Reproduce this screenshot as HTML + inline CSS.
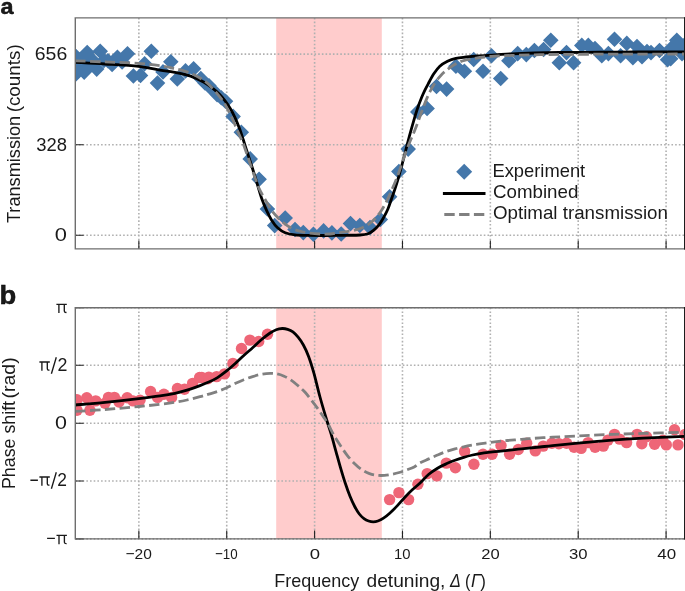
<!DOCTYPE html>
<html><head><meta charset="utf-8"><title>figure</title>
<style>html,body{margin:0;padding:0;background:#fff;overflow:hidden}svg{display:block;will-change:transform}text{font-family:"Liberation Sans",sans-serif;fill:#1a1a1a}.tk{stroke:#222;stroke-width:1.1;fill:none}.gr{stroke:#b0b0b0;stroke-width:1.6;stroke-dasharray:1.6 2.08;fill:none}.ax{stroke:#6e6e6e;stroke-width:1.4;fill:none}.bk{stroke:#000;stroke-width:2.8;fill:none;stroke-linejoin:round}.gy{stroke:#808080;stroke-width:2.8;fill:none;stroke-dasharray:10.4 4.4}</style></head><body>
<svg width="685" height="591" viewBox="0 0 685 591">
<rect width="685" height="591" fill="#fff"/>
<defs>
<clipPath id="ca"><rect x="75.30" y="17.90" width="609.70" height="231.00"/></clipPath>
<clipPath id="cb"><rect x="75.30" y="307.70" width="609.70" height="231.20"/></clipPath>
</defs>
<rect x="276.20" y="17.90" width="105.60" height="231.00" fill="#ffcccc"/>
<path class="gr" d="M138.86,17.90 V248.90 M226.73,17.90 V248.90 M314.60,17.90 V248.90 M402.47,17.90 V248.90 M490.34,17.90 V248.90 M578.21,17.90 V248.90 M666.08,17.90 V248.90 M75.30,54.10 H685.00 M75.30,144.70 H685.00 M75.30,235.20 H685.00"/>
<path class="tk" d="M138.86,248.90 V240.60 M226.73,248.90 V240.60 M314.60,248.90 V240.60 M402.47,248.90 V240.60 M490.34,248.90 V240.60 M578.21,248.90 V240.60 M666.08,248.90 V240.60 M75.30,54.10 H83.60 M75.30,144.70 H83.60 M75.30,235.20 H83.60"/>
<g clip-path="url(#ca)">
<path fill="#4477aa" d="M75.00,47.70 l7.80,7.80 l-7.80,7.80 l-7.80,-7.80 zM75.90,66.10 l7.80,7.80 l-7.80,7.80 l-7.80,-7.80 zM87.20,44.70 l7.80,7.80 l-7.80,7.80 l-7.80,-7.80 zM84.20,64.30 l7.80,7.80 l-7.80,7.80 l-7.80,-7.80 zM100.20,43.50 l7.80,7.80 l-7.80,7.80 l-7.80,-7.80 zM96.70,61.30 l7.80,7.80 l-7.80,7.80 l-7.80,-7.80 zM78.50,58.20 l7.80,7.80 l-7.80,7.80 l-7.80,-7.80 zM81.30,54.20 l7.80,7.80 l-7.80,7.80 l-7.80,-7.80 zM86.50,56.70 l7.80,7.80 l-7.80,7.80 l-7.80,-7.80 zM92.70,52.50 l7.80,7.80 l-7.80,7.80 l-7.80,-7.80 zM104.00,52.70 l7.80,7.80 l-7.80,7.80 l-7.80,-7.80 zM107.90,53.00 l7.80,7.80 l-7.80,7.80 l-7.80,-7.80 zM117.40,49.50 l7.80,7.80 l-7.80,7.80 l-7.80,-7.80 zM112.10,56.60 l7.80,7.80 l-7.80,7.80 l-7.80,-7.80 zM127.50,45.90 l7.80,7.80 l-7.80,7.80 l-7.80,-7.80 zM122.10,54.20 l7.80,7.80 l-7.80,7.80 l-7.80,-7.80 zM133.40,68.20 l7.80,7.80 l-7.80,7.80 l-7.80,-7.80 zM140.50,67.60 l7.80,7.80 l-7.80,7.80 l-7.80,-7.80 zM151.30,43.40 l7.80,7.80 l-7.80,7.80 l-7.80,-7.80 zM144.60,55.90 l7.80,7.80 l-7.80,7.80 l-7.80,-7.80 zM157.50,75.30 l7.80,7.80 l-7.80,7.80 l-7.80,-7.80 zM163.00,64.10 l7.80,7.80 l-7.80,7.80 l-7.80,-7.80 zM170.80,53.90 l7.80,7.80 l-7.80,7.80 l-7.80,-7.80 zM177.30,71.20 l7.80,7.80 l-7.80,7.80 l-7.80,-7.80 zM185.50,63.10 l7.80,7.80 l-7.80,7.80 l-7.80,-7.80 zM193.60,61.00 l7.80,7.80 l-7.80,7.80 l-7.80,-7.80 zM200.80,70.70 l7.80,7.80 l-7.80,7.80 l-7.80,-7.80 zM205.00,75.20 l7.80,7.80 l-7.80,7.80 l-7.80,-7.80 zM209.00,78.00 l7.80,7.80 l-7.80,7.80 l-7.80,-7.80 zM213.00,82.50 l7.80,7.80 l-7.80,7.80 l-7.80,-7.80 zM221.30,90.00 l7.80,7.80 l-7.80,7.80 l-7.80,-7.80 zM217.10,86.80 l7.80,7.80 l-7.80,7.80 l-7.80,-7.80 zM225.50,93.40 l7.80,7.80 l-7.80,7.80 l-7.80,-7.80 zM233.10,108.60 l7.80,7.80 l-7.80,7.80 l-7.80,-7.80 zM241.30,124.50 l7.80,7.80 l-7.80,7.80 l-7.80,-7.80 zM250.20,151.10 l7.80,7.80 l-7.80,7.80 l-7.80,-7.80 zM259.10,171.40 l7.80,7.80 l-7.80,7.80 l-7.80,-7.80 zM267.40,201.20 l7.80,7.80 l-7.80,7.80 l-7.80,-7.80 zM274.70,217.80 l7.80,7.80 l-7.80,7.80 l-7.80,-7.80 zM285.20,210.20 l7.80,7.80 l-7.80,7.80 l-7.80,-7.80 zM295.00,221.70 l7.80,7.80 l-7.80,7.80 l-7.80,-7.80 zM303.30,224.80 l7.80,7.80 l-7.80,7.80 l-7.80,-7.80 zM313.40,226.50 l7.80,7.80 l-7.80,7.80 l-7.80,-7.80 zM323.60,223.10 l7.80,7.80 l-7.80,7.80 l-7.80,-7.80 zM331.90,225.10 l7.80,7.80 l-7.80,7.80 l-7.80,-7.80 zM341.20,226.20 l7.80,7.80 l-7.80,7.80 l-7.80,-7.80 zM350.50,215.80 l7.80,7.80 l-7.80,7.80 l-7.80,-7.80 zM359.80,217.70 l7.80,7.80 l-7.80,7.80 l-7.80,-7.80 zM370.00,219.70 l7.80,7.80 l-7.80,7.80 l-7.80,-7.80 zM380.30,211.70 l7.80,7.80 l-7.80,7.80 l-7.80,-7.80 zM389.60,189.00 l7.80,7.80 l-7.80,7.80 l-7.80,-7.80 zM398.90,163.70 l7.80,7.80 l-7.80,7.80 l-7.80,-7.80 zM408.20,141.30 l7.80,7.80 l-7.80,7.80 l-7.80,-7.80 zM417.80,104.10 l7.80,7.80 l-7.80,7.80 l-7.80,-7.80 zM427.10,100.70 l7.80,7.80 l-7.80,7.80 l-7.80,-7.80 zM436.50,78.70 l7.80,7.80 l-7.80,7.80 l-7.80,-7.80 zM446.60,81.30 l7.80,7.80 l-7.80,7.80 l-7.80,-7.80 zM455.90,58.40 l7.80,7.80 l-7.80,7.80 l-7.80,-7.80 zM464.40,63.50 l7.80,7.80 l-7.80,7.80 l-7.80,-7.80 zM473.70,51.70 l7.80,7.80 l-7.80,7.80 l-7.80,-7.80 zM483.00,63.50 l7.80,7.80 l-7.80,7.80 l-7.80,-7.80 zM491.50,47.90 l7.80,7.80 l-7.80,7.80 l-7.80,-7.80 zM500.70,70.70 l7.80,7.80 l-7.80,7.80 l-7.80,-7.80 zM508.90,53.00 l7.80,7.80 l-7.80,7.80 l-7.80,-7.80 zM517.70,45.80 l7.80,7.80 l-7.80,7.80 l-7.80,-7.80 zM526.30,46.80 l7.80,7.80 l-7.80,7.80 l-7.80,-7.80 zM534.40,42.70 l7.80,7.80 l-7.80,7.80 l-7.80,-7.80 zM543.60,41.70 l7.80,7.80 l-7.80,7.80 l-7.80,-7.80 zM550.80,32.50 l7.80,7.80 l-7.80,7.80 l-7.80,-7.80 zM559.30,55.00 l7.80,7.80 l-7.80,7.80 l-7.80,-7.80 zM566.50,44.80 l7.80,7.80 l-7.80,7.80 l-7.80,-7.80 zM573.60,55.00 l7.80,7.80 l-7.80,7.80 l-7.80,-7.80 zM581.80,37.60 l7.80,7.80 l-7.80,7.80 l-7.80,-7.80 zM588.30,37.60 l7.80,7.80 l-7.80,7.80 l-7.80,-7.80 zM595.00,40.70 l7.80,7.80 l-7.80,7.80 l-7.80,-7.80 zM601.80,47.90 l7.80,7.80 l-7.80,7.80 l-7.80,-7.80 zM608.40,45.80 l7.80,7.80 l-7.80,7.80 l-7.80,-7.80 zM614.50,31.50 l7.80,7.80 l-7.80,7.80 l-7.80,-7.80 zM620.60,47.90 l7.80,7.80 l-7.80,7.80 l-7.80,-7.80 zM626.80,35.60 l7.80,7.80 l-7.80,7.80 l-7.80,-7.80 zM632.90,49.90 l7.80,7.80 l-7.80,7.80 l-7.80,-7.80 zM637.00,38.70 l7.80,7.80 l-7.80,7.80 l-7.80,-7.80 zM642.00,48.90 l7.80,7.80 l-7.80,7.80 l-7.80,-7.80 zM647.00,43.80 l7.80,7.80 l-7.80,7.80 l-7.80,-7.80 zM651.00,44.80 l7.80,7.80 l-7.80,7.80 l-7.80,-7.80 zM659.50,42.70 l7.80,7.80 l-7.80,7.80 l-7.80,-7.80 zM667.60,51.90 l7.80,7.80 l-7.80,7.80 l-7.80,-7.80 zM670.70,50.90 l7.80,7.80 l-7.80,7.80 l-7.80,-7.80 zM676.80,32.50 l7.80,7.80 l-7.80,7.80 l-7.80,-7.80 zM682.00,45.80 l7.80,7.80 l-7.80,7.80 l-7.80,-7.80 zM672.00,39.70 l7.80,7.80 l-7.80,7.80 l-7.80,-7.80 zM679.50,41.70 l7.80,7.80 l-7.80,7.80 l-7.80,-7.80 zM684.00,37.70 l7.80,7.80 l-7.80,7.80 l-7.80,-7.80 z"/>
<path class="bk" d="M75.30,62.40C80.25,62.67 94.47,63.33 105.00,64.00C115.53,64.67 129.33,65.38 138.50,66.40C147.67,67.42 154.17,69.15 160.00,70.10C165.83,71.05 169.27,71.33 173.50,72.10C177.73,72.87 181.73,73.70 185.40,74.70C189.07,75.70 192.40,76.83 195.50,78.10C198.60,79.37 201.17,80.62 204.00,82.30C206.83,83.98 209.97,86.23 212.50,88.20C215.03,90.17 217.10,91.98 219.20,94.10C221.30,96.22 223.23,98.45 225.10,100.90C226.97,103.35 228.75,106.02 230.40,108.80C232.05,111.58 233.47,114.27 235.00,117.60C236.53,120.93 238.23,125.15 239.60,128.80C240.97,132.45 242.03,135.92 243.20,139.50C244.37,143.08 245.15,145.80 246.60,150.30C248.05,154.80 250.18,161.08 251.90,166.50C253.62,171.92 255.23,177.38 256.90,182.80C258.57,188.22 260.23,194.27 261.90,199.00C263.57,203.73 265.25,207.63 266.90,211.20C268.55,214.77 270.02,217.63 271.80,220.40C273.58,223.17 275.37,225.73 277.60,227.80C279.83,229.87 282.30,231.62 285.20,232.80C288.10,233.98 291.00,234.47 295.00,234.90C299.00,235.33 304.20,235.30 309.20,235.40C314.20,235.50 318.88,235.52 325.00,235.50C331.12,235.48 340.07,235.38 345.90,235.30C351.73,235.22 356.30,235.27 360.00,235.00C363.70,234.73 365.85,234.48 368.10,233.70C370.35,232.92 371.68,231.77 373.50,230.30C375.32,228.83 377.30,227.05 379.00,224.90C380.70,222.75 382.23,220.00 383.70,217.40C385.17,214.80 386.55,212.23 387.80,209.30C389.05,206.37 390.08,202.97 391.20,199.80C392.32,196.63 393.38,193.68 394.50,190.30C395.62,186.92 396.77,183.30 397.90,179.50C399.03,175.70 400.07,172.08 401.30,167.50C402.53,162.92 403.95,157.23 405.30,152.00C406.65,146.77 408.05,141.13 409.40,136.10C410.75,131.07 412.05,126.40 413.40,121.80C414.75,117.20 416.13,112.55 417.50,108.50C418.87,104.45 420.38,100.53 421.60,97.50C422.82,94.47 423.70,92.58 424.80,90.30C425.90,88.02 426.70,86.55 428.20,83.80C429.70,81.05 431.87,76.73 433.80,73.80C435.73,70.87 437.52,68.30 439.80,66.20C442.08,64.10 444.82,62.52 447.50,61.20C450.18,59.88 452.80,59.00 455.90,58.30C459.00,57.60 462.43,57.40 466.10,57.00C469.77,56.60 473.08,56.25 477.90,55.90C482.72,55.55 489.32,55.25 495.00,54.90C500.68,54.55 505.43,54.12 512.00,53.80C518.57,53.48 526.57,53.22 534.40,53.00C542.23,52.78 548.07,52.63 559.00,52.50C569.93,52.37 586.50,52.28 600.00,52.20C613.50,52.12 625.92,52.05 640.00,52.00C654.08,51.95 677.08,51.92 684.50,51.90"/>
<path class="gy" d="M75.30,60.90C80.25,61.07 94.47,61.48 105.00,61.90C115.53,62.32 128.77,62.68 138.50,63.40C148.23,64.12 157.57,65.37 163.40,66.20C169.23,67.03 169.83,67.55 173.50,68.40C177.17,69.25 181.73,70.12 185.40,71.30C189.07,72.48 192.40,73.95 195.50,75.50C198.60,77.05 201.45,78.77 204.00,80.60C206.55,82.43 208.55,84.25 210.80,86.50C213.05,88.75 215.38,91.55 217.50,94.10C219.62,96.65 221.80,99.25 223.50,101.80C225.20,104.35 226.30,106.73 227.70,109.40C229.10,112.07 230.47,114.70 231.90,117.80C233.33,120.90 234.88,124.75 236.30,128.00C237.72,131.25 239.15,134.43 240.40,137.30C241.65,140.17 242.35,141.33 243.80,145.20C245.25,149.07 247.35,155.42 249.10,160.50C250.85,165.58 252.60,170.97 254.30,175.70C256.00,180.43 257.45,184.85 259.30,188.90C261.15,192.95 263.37,196.45 265.40,200.00C267.43,203.55 269.32,207.15 271.50,210.20C273.68,213.25 276.17,215.93 278.50,218.30C280.83,220.67 283.02,222.60 285.50,224.40C287.98,226.20 290.77,227.90 293.40,229.10C296.03,230.30 298.67,230.93 301.30,231.60C303.93,232.27 306.08,232.70 309.20,233.10C312.32,233.50 316.53,233.85 320.00,234.00C323.47,234.15 326.67,234.23 330.00,234.00C333.33,233.77 336.63,233.08 340.00,232.60C343.37,232.12 346.82,231.78 350.20,231.10C353.58,230.42 357.27,229.62 360.30,228.50C363.33,227.38 365.87,226.10 368.40,224.40C370.93,222.70 373.30,220.67 375.50,218.30C377.70,215.93 379.73,213.07 381.60,210.20C383.47,207.33 385.00,204.48 386.70,201.10C388.40,197.72 390.10,193.80 391.80,189.90C393.50,186.00 395.38,181.60 396.90,177.70C398.42,173.80 399.55,170.38 400.90,166.50C402.25,162.62 403.47,158.62 405.00,154.40C406.53,150.18 408.52,145.10 410.10,141.20C411.68,137.30 413.07,134.53 414.50,131.00C415.93,127.47 417.15,124.17 418.70,120.00C420.25,115.83 422.12,110.32 423.80,106.00C425.48,101.68 426.97,97.92 428.80,94.10C430.63,90.28 432.68,86.33 434.80,83.10C436.92,79.87 439.25,77.08 441.50,74.70C443.75,72.32 445.90,70.63 448.30,68.80C450.70,66.97 453.22,65.12 455.90,63.70C458.58,62.28 461.30,61.18 464.40,60.30C467.50,59.42 471.12,58.95 474.50,58.40C477.88,57.85 481.28,57.38 484.70,57.00C488.12,56.62 490.45,56.37 495.00,56.10C499.55,55.83 505.43,55.62 512.00,55.40C518.57,55.18 526.57,54.97 534.40,54.80C542.23,54.63 548.07,54.50 559.00,54.40C569.93,54.30 586.50,54.25 600.00,54.20C613.50,54.15 625.92,54.13 640.00,54.10C654.08,54.07 677.08,54.02 684.50,54.00"/>
</g>
<path class="ax" d="M74.55,17.90 H685.00 M75.30,17.90 V248.90 H685.00"/>
<rect x="684" y="17.20" width="1" height="232.40" fill="#1c1c1c"/>
<rect x="276.20" y="307.70" width="105.60" height="231.20" fill="#ffcccc"/>
<path class="gr" d="M138.86,307.70 V538.90 M226.73,307.70 V538.90 M314.60,307.70 V538.90 M402.47,307.70 V538.90 M490.34,307.70 V538.90 M578.21,307.70 V538.90 M666.08,307.70 V538.90 M75.30,307.70 H685.00 M75.30,365.30 H685.00 M75.30,423.20 H685.00 M75.30,481.00 H685.00 M75.30,538.90 H685.00"/>
<path class="tk" d="M138.86,538.90 V530.60 M226.73,538.90 V530.60 M314.60,538.90 V530.60 M402.47,538.90 V530.60 M490.34,538.90 V530.60 M578.21,538.90 V530.60 M666.08,538.90 V530.60 M75.30,307.70 H83.60 M75.30,365.30 H83.60 M75.30,423.20 H83.60 M75.30,481.00 H83.60 M75.30,538.90 H83.60"/>
<g clip-path="url(#cb)">
<g fill="#ee6677"><circle cx="77.00" cy="399.70" r="5.70"/><circle cx="77.00" cy="410.20" r="5.70"/><circle cx="86.80" cy="397.80" r="5.70"/><circle cx="89.90" cy="410.20" r="5.70"/><circle cx="95.70" cy="400.90" r="5.70"/><circle cx="105.00" cy="403.20" r="5.70"/><circle cx="108.50" cy="397.40" r="5.70"/><circle cx="114.40" cy="397.40" r="5.70"/><circle cx="119.00" cy="402.00" r="5.70"/><circle cx="127.20" cy="397.80" r="5.70"/><circle cx="133.00" cy="400.90" r="5.70"/><circle cx="140.00" cy="400.20" r="5.70"/><circle cx="150.60" cy="391.50" r="5.70"/><circle cx="157.60" cy="397.40" r="5.70"/><circle cx="163.90" cy="394.30" r="5.70"/><circle cx="171.60" cy="397.40" r="5.70"/><circle cx="177.40" cy="388.50" r="5.70"/><circle cx="184.50" cy="389.20" r="5.70"/><circle cx="192.60" cy="383.40" r="5.70"/><circle cx="199.60" cy="377.50" r="5.70"/><circle cx="207.80" cy="378.70" r="5.70"/><circle cx="201.80" cy="377.50" r="5.70"/><circle cx="208.80" cy="377.10" r="5.70"/><circle cx="216.60" cy="376.60" r="5.70"/><circle cx="224.50" cy="373.90" r="5.70"/><circle cx="232.90" cy="363.40" r="5.70"/><circle cx="241.50" cy="348.50" r="5.70"/><circle cx="249.90" cy="340.10" r="5.70"/><circle cx="258.70" cy="341.50" r="5.70"/><circle cx="267.50" cy="334.20" r="5.70"/><circle cx="389.60" cy="499.60" r="5.70"/><circle cx="398.90" cy="492.60" r="5.70"/><circle cx="408.60" cy="499.60" r="5.70"/><circle cx="417.90" cy="484.20" r="5.70"/><circle cx="427.20" cy="473.60" r="5.70"/><circle cx="436.80" cy="475.90" r="5.70"/><circle cx="446.30" cy="463.10" r="5.70"/><circle cx="455.40" cy="467.70" r="5.70"/><circle cx="464.60" cy="451.40" r="5.70"/><circle cx="473.90" cy="464.20" r="5.70"/><circle cx="483.00" cy="454.20" r="5.70"/><circle cx="492.10" cy="454.20" r="5.70"/><circle cx="501.00" cy="445.50" r="5.70"/><circle cx="509.60" cy="454.20" r="5.70"/><circle cx="518.30" cy="449.50" r="5.70"/><circle cx="526.70" cy="443.20" r="5.70"/><circle cx="535.30" cy="450.90" r="5.70"/><circle cx="543.20" cy="446.10" r="5.70"/><circle cx="551.90" cy="443.30" r="5.70"/><circle cx="558.90" cy="443.70" r="5.70"/><circle cx="566.60" cy="443.30" r="5.70"/><circle cx="574.10" cy="447.20" r="5.70"/><circle cx="581.10" cy="448.40" r="5.70"/><circle cx="588.10" cy="442.60" r="5.70"/><circle cx="595.10" cy="447.20" r="5.70"/><circle cx="603.30" cy="446.10" r="5.70"/><circle cx="607.90" cy="440.20" r="5.70"/><circle cx="614.50" cy="434.40" r="5.70"/><circle cx="619.60" cy="439.10" r="5.70"/><circle cx="626.60" cy="442.60" r="5.70"/><circle cx="637.10" cy="434.40" r="5.70"/><circle cx="641.80" cy="443.70" r="5.70"/><circle cx="646.50" cy="436.70" r="5.70"/><circle cx="654.60" cy="444.20" r="5.70"/><circle cx="662.80" cy="440.20" r="5.70"/><circle cx="666.30" cy="444.90" r="5.70"/><circle cx="674.50" cy="429.70" r="5.70"/><circle cx="678.00" cy="444.90" r="5.70"/><circle cx="685.00" cy="434.40" r="5.70"/></g>
<path class="bk" d="M75.30,405.00C80.25,404.55 94.40,403.37 105.00,402.30C115.60,401.23 129.73,399.67 138.90,398.60C148.07,397.53 153.98,396.78 160.00,395.90C166.02,395.02 170.50,394.27 175.00,393.30C179.50,392.33 182.83,391.38 187.00,390.10C191.17,388.82 196.37,386.93 200.00,385.60C203.63,384.27 205.88,383.43 208.80,382.10C211.72,380.77 214.58,379.42 217.50,377.60C220.42,375.78 223.38,373.50 226.30,371.20C229.22,368.90 232.08,366.42 235.00,363.80C237.92,361.18 240.87,358.18 243.80,355.50C246.73,352.82 249.68,350.32 252.60,347.70C255.52,345.08 258.38,342.25 261.30,339.80C264.22,337.35 267.62,334.68 270.10,333.00C272.58,331.32 274.17,330.45 276.20,329.70C278.23,328.95 280.40,328.57 282.30,328.50C284.20,328.43 285.83,328.73 287.60,329.30C289.37,329.87 291.15,330.58 292.90,331.90C294.65,333.22 296.35,335.02 298.10,337.20C299.85,339.38 301.65,341.80 303.40,345.00C305.15,348.20 306.85,351.72 308.60,356.40C310.35,361.08 312.00,366.33 313.90,373.10C315.80,379.87 317.87,389.18 320.00,397.00C322.13,404.82 324.80,413.68 326.70,420.00C328.60,426.32 329.85,429.63 331.40,434.90C332.95,440.17 334.45,446.02 336.00,451.60C337.55,457.18 339.15,463.12 340.70,468.40C342.25,473.68 343.75,478.65 345.30,483.30C346.85,487.95 348.43,492.43 350.00,496.30C351.57,500.17 353.15,503.55 354.70,506.50C356.25,509.45 357.75,511.98 359.30,514.00C360.85,516.02 362.45,517.43 364.00,518.60C365.55,519.77 367.05,520.47 368.60,521.00C370.15,521.53 371.75,521.80 373.30,521.80C374.85,521.80 376.20,521.60 377.90,521.00C379.60,520.40 381.48,519.53 383.50,518.20C385.52,516.87 387.68,515.10 390.00,513.00C392.32,510.90 394.92,508.23 397.40,505.60C399.88,502.97 402.42,499.83 404.90,497.20C407.38,494.57 409.82,492.12 412.30,489.80C414.78,487.48 417.05,485.88 419.80,483.30C422.55,480.72 425.85,476.82 428.80,474.30C431.75,471.78 434.58,469.95 437.50,468.20C440.42,466.45 443.38,465.12 446.30,463.80C449.22,462.48 452.08,461.38 455.00,460.30C457.92,459.22 460.87,458.18 463.80,457.30C466.73,456.42 469.68,455.67 472.60,455.00C475.52,454.33 478.33,453.77 481.30,453.30C484.27,452.83 487.48,452.53 490.40,452.20C493.32,451.87 495.93,451.60 498.80,451.30C501.67,451.00 504.38,450.75 507.60,450.40C510.82,450.05 514.60,449.58 518.10,449.20C521.60,448.82 524.95,448.47 528.60,448.10C532.25,447.73 536.00,447.42 540.00,447.00C544.00,446.58 546.23,446.25 552.60,445.60C558.97,444.95 568.77,443.97 578.20,443.10C587.63,442.23 598.38,441.22 609.20,440.40C620.02,439.58 630.55,438.88 643.10,438.20C655.65,437.52 677.60,436.62 684.50,436.30"/>
<path class="gy" d="M75.30,411.40C80.25,411.08 94.40,410.32 105.00,409.50C115.60,408.68 129.73,407.37 138.90,406.50C148.07,405.63 153.98,405.00 160.00,404.30C166.02,403.60 170.50,403.02 175.00,402.30C179.50,401.58 182.83,400.93 187.00,400.00C191.17,399.07 196.37,397.68 200.00,396.70C203.63,395.72 205.88,394.97 208.80,394.10C211.72,393.23 214.58,392.52 217.50,391.50C220.42,390.48 223.38,389.32 226.30,388.00C229.22,386.68 232.08,384.98 235.00,383.60C237.92,382.22 240.87,380.87 243.80,379.70C246.73,378.53 249.68,377.50 252.60,376.60C255.52,375.70 258.38,374.83 261.30,374.30C264.22,373.77 267.47,373.47 270.10,373.40C272.73,373.33 274.77,373.43 277.10,373.90C279.43,374.37 281.77,375.17 284.10,376.20C286.43,377.23 288.77,378.52 291.10,380.10C293.43,381.68 295.77,383.67 298.10,385.70C300.43,387.73 302.77,389.73 305.10,392.30C307.43,394.87 310.05,398.47 312.10,401.10C314.15,403.73 315.67,405.70 317.40,408.10C319.13,410.50 320.78,412.97 322.50,415.50C324.22,418.03 325.75,419.92 327.70,423.30C329.65,426.68 332.03,432.02 334.20,435.80C336.37,439.58 338.53,442.75 340.70,446.00C342.87,449.25 344.87,452.35 347.20,455.30C349.53,458.25 352.22,461.27 354.70,463.70C357.18,466.13 359.63,468.25 362.10,469.90C364.57,471.55 367.02,472.70 369.50,473.60C371.98,474.50 374.52,475.00 377.00,475.30C379.48,475.60 381.92,475.57 384.40,475.40C386.88,475.23 389.42,474.78 391.90,474.30C394.38,473.82 396.83,473.23 399.30,472.50C401.77,471.77 404.22,470.83 406.70,469.90C409.18,468.97 411.98,468.07 414.20,466.90C416.42,465.73 417.57,464.23 420.00,462.90C422.43,461.57 425.88,460.22 428.80,458.90C431.72,457.58 434.58,456.23 437.50,455.00C440.42,453.77 443.38,452.52 446.30,451.50C449.22,450.48 452.08,449.68 455.00,448.90C457.92,448.12 460.87,447.43 463.80,446.80C466.73,446.17 469.68,445.62 472.60,445.10C475.52,444.58 478.33,444.15 481.30,443.70C484.27,443.25 487.48,442.78 490.40,442.40C493.32,442.02 495.93,441.72 498.80,441.40C501.67,441.08 504.38,440.80 507.60,440.50C510.82,440.20 514.60,439.90 518.10,439.60C521.60,439.30 524.95,438.98 528.60,438.70C532.25,438.42 536.00,438.15 540.00,437.90C544.00,437.65 546.23,437.53 552.60,437.20C558.97,436.87 568.77,436.35 578.20,435.90C587.63,435.45 598.38,434.92 609.20,434.50C620.02,434.08 630.55,433.77 643.10,433.40C655.65,433.03 677.60,432.48 684.50,432.30"/>
</g>
<path class="ax" d="M74.55,307.70 H685.00 M75.30,307.70 V538.90 H685.00"/>
<rect x="684" y="307.00" width="1" height="232.60" fill="#1c1c1c"/>
<path fill="#4477aa" d="M464.20,163.70 l8.00,8.00 l-8.00,8.00 l-8.00,-8.00 z"/>
<path class="bk" d="M442.9,193.5 H485.5"/>
<path class="gy" d="M444.3,214.5 H485.5"/>
<text transform="translate(492.43,176.70) scale(1.0486,1)" font-size="17.50">Experiment</text>
<text transform="translate(492.96,197.90) scale(1.0708,1)" font-size="17.50">Combined</text>
<text transform="translate(492.96,219.30) scale(1.0716,1)" font-size="17.50">Optimal transmission</text>
<text transform="translate(0.60,13.60) scale(1.0882,1)" font-size="21.50" font-weight="bold" fill="#000" stroke="#000" stroke-width="0.45">a</text>
<text transform="translate(-0.62,304.00) scale(1.0830,1)" font-size="25.30" font-weight="bold" fill="#000" stroke="#000" stroke-width="0.45">b</text>
<text transform="translate(34.78,60.00) scale(1.0535,1)" font-size="18.50">656</text>
<text transform="translate(36.26,150.60) scale(0.9956,1)" font-size="18.50">328</text>
<text transform="translate(54.83,241.20) scale(1.1824,1)" font-size="18.50">0</text>
<path d="M56.40,304.30 H66.80 M58.90,304.30 V313.05 M64.30,304.30 V310.80 Q64.30,312.65 66.50,312.45 M39.40,362.00 H49.80 M41.90,362.00 V370.75 M47.30,362.00 V368.50 Q47.30,370.35 49.50,370.15 M51.4,373.7 L56.3,357.2 M39.40,477.00 H49.80 M41.90,477.00 V485.75 M47.30,477.00 V483.50 Q47.30,485.35 49.50,485.15 M51.4,488.7 L56.3,472.2 M30.4,480.2 H37.9 M56.50,535.40 H66.90 M59.00,535.40 V544.15 M64.40,535.40 V541.90 Q64.40,543.75 66.60,543.55 M47.1,538.4 H54.9" fill="none" stroke="#1a1a1a" stroke-width="1.35"/>
<text transform="translate(57.51,370.70) scale(0.9636,1)" font-size="18.50">2</text>
<text transform="translate(55.04,429.20) scale(1.1599,1)" font-size="18.50">0</text>
<text transform="translate(57.33,485.70) scale(0.9401,1)" font-size="18.50">2</text>
<text transform="translate(125.52,559.30) scale(1.0018,1)" font-size="15.50">−20</text>
<text transform="translate(215.03,559.30) scale(0.8616,1)" font-size="15.50">−10</text>
<text transform="translate(309.86,559.30) scale(1.1962,1)" font-size="15.50">0</text>
<text transform="translate(393.91,559.30) scale(0.9580,1)" font-size="15.50">10</text>
<text transform="translate(481.27,559.30) scale(1.0689,1)" font-size="15.50">20</text>
<text transform="translate(569.03,559.30) scale(1.0774,1)" font-size="15.50">30</text>
<text transform="translate(657.26,559.30) scale(1.0937,1)" font-size="15.50">40</text>
<text transform="translate(19.50,223.06) rotate(-90) scale(1.0378,1)" font-size="17.50">Transmission</text>
<text transform="translate(19.50,112.33) rotate(-90) scale(1.0774,1)" font-size="17.50">(counts)</text>
<text transform="translate(14.80,489.03) rotate(-90) scale(1.0182,1)" font-size="17.50">Phase shift</text>
<text transform="translate(14.80,398.47) rotate(-90) scale(1.1141,1)" font-size="17.50">(rad)</text>
<text transform="translate(274.36,586.80) scale(1.0271,1)" font-size="17.50">Frequency</text>
<text transform="translate(366.53,586.80) scale(1.0956,1)" font-size="17.50">detuning,</text>
<text transform="translate(449.92,586.80) scale(0.9217,1)" font-size="17.50" font-style="italic">Δ</text>
<text transform="translate(465.03,586.80) scale(0.9231,1)" font-size="17.50">(</text>
<text transform="translate(471.08,586.80) scale(0.9825,1)" font-size="17.50" font-style="italic">Γ</text>
<text transform="translate(480.23,586.80) scale(0.9670,1)" font-size="17.50">)</text>
</svg></body></html>
